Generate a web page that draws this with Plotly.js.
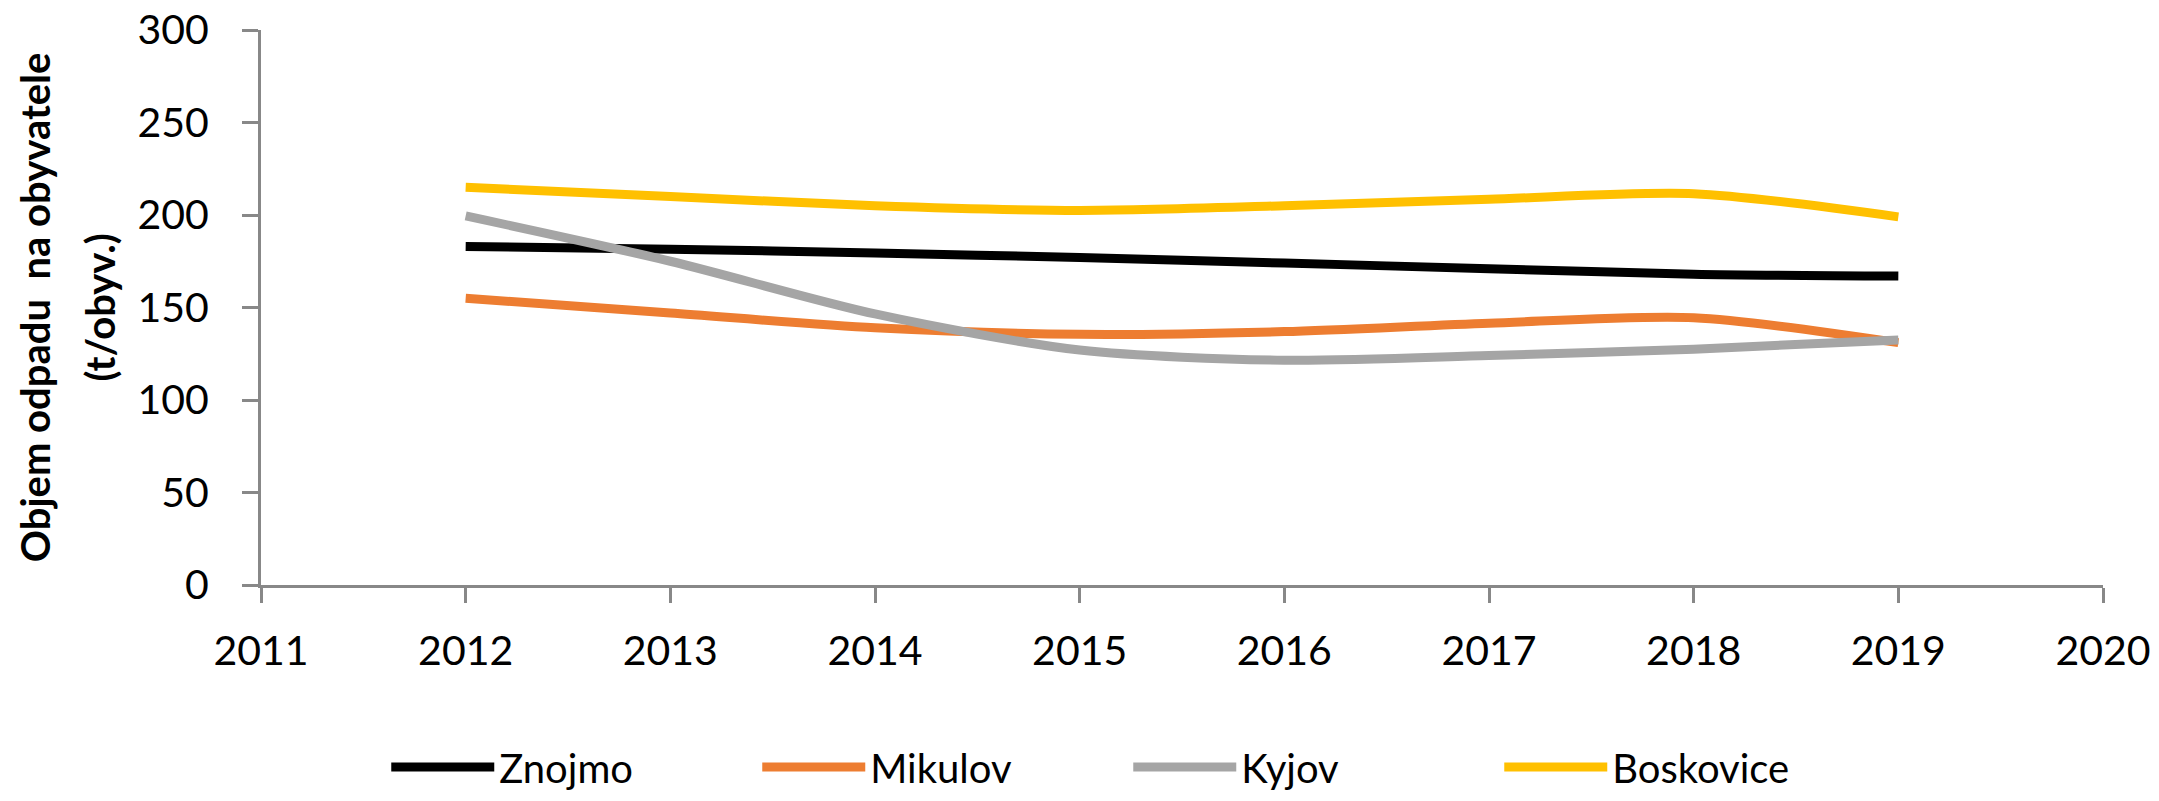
<!DOCTYPE html>
<html>
<head>
<meta charset="utf-8">
<script src="https://cdn.plot.ly/plotly-3.0.1.min.js"></script>
<style>html,body{margin:0;padding:0;background:#fff;}#chart{width:2159px;height:801px;}</style>
</head>
<body>
<div id="chart"></div>
<script>
const years = [2012, 2013, 2014, 2015, 2016, 2017, 2018, 2019];
const znojmo = [183, 181.5, 179.5, 177, 174, 171, 168, 167];
const mikulov = [155, 147, 139, 135.5, 137, 141.5, 144.5, 131];
const kyjov = [199.5, 175, 146.5, 127, 121.5, 124, 127.5, 132.5];
const boskovice = [215, 210, 205, 202.5, 205, 208.5, 211.5, 199];
const seriesNames = ["Znojmo", "Mikulov", "Kyjov", "Boskovice"];
const seriesColors = ["#000000", "#ED7D31", "#A5A5A5", "#FFC000"];
const seriesValues = [znojmo, mikulov, kyjov, boskovice];
const xTicks = [2011, 2012, 2013, 2014, 2015, 2016, 2017, 2018, 2019, 2020];
const yTicks = [0, 50, 100, 150, 200, 250, 300];
const yTitleLines = ["Objem odpadu  na obyvatele", "(t/obyv.)"];

const FONT = "Lato, 'Open Sans', sans-serif";

const traces = seriesNames.map((name, i) => ({
  type: "scatter",
  mode: "lines",
  name: name,
  x: years,
  y: seriesValues[i],
  line: {color: seriesColors[i], width: 9, shape: "spline", smoothing: 0.8},
  hoverinfo: "x+y+name"
}));

const layout = {
  width: 2159,
  height: 801,
  margin: {l: 261, r: 56, t: 30, b: 216, autoexpand: false},
  paper_bgcolor: "#ffffff",
  plot_bgcolor: "#ffffff",
  font: {family: FONT, size: 40, color: "#000000"},
  showlegend: true,
  legend: {
    orientation: "h",
    x: 0.068, xanchor: "left",
    y: -0.328, yanchor: "middle",
    font: {family: FONT, size: 40, color: "#000000"},
    itemwidth: 103,
    entrywidth: 253,
    entrywidthmode: "pixels",
    traceorder: "normal",
    bgcolor: "rgba(0,0,0,0)"
  },
  xaxis: {
    range: [2011, 2020],
    tickvals: xTicks,
    ticktext: xTicks.map(String),
    showgrid: false,
    zeroline: false,
    showline: true,
    automargin: false,
    linecolor: "#888888",
    linewidth: 3,
    ticks: "outside",
    ticklen: 15,
    tickwidth: 3,
    tickcolor: "#888888",
    tickfont: {family: FONT, size: 41, color: "#000000"},
    ticklabelstandoff: 13
  },
  yaxis: {
    range: [0, 300],
    tickvals: yTicks,
    ticktext: yTicks.map(String),
    showgrid: false,
    zeroline: false,
    showline: true,
    automargin: false,
    linecolor: "#888888",
    linewidth: 3,
    ticks: "outside",
    ticklen: 16,
    tickwidth: 3,
    tickcolor: "#888888",
    tickfont: {family: FONT, size: 41, color: "#000000"},
    ticklabelstandoff: 25,
    title: {
      text: yTitleLines.map(t => "<span style='font-size:40px'><b>" + t + "</b></span>").join("<br>"),
      font: {family: FONT, size: 50, color: "#000000"},
      standoff: 6
    }
  }
};

Plotly.newPlot("chart", traces, layout, {displayModeBar: false, responsive: false});
</script>
</body>
</html>
